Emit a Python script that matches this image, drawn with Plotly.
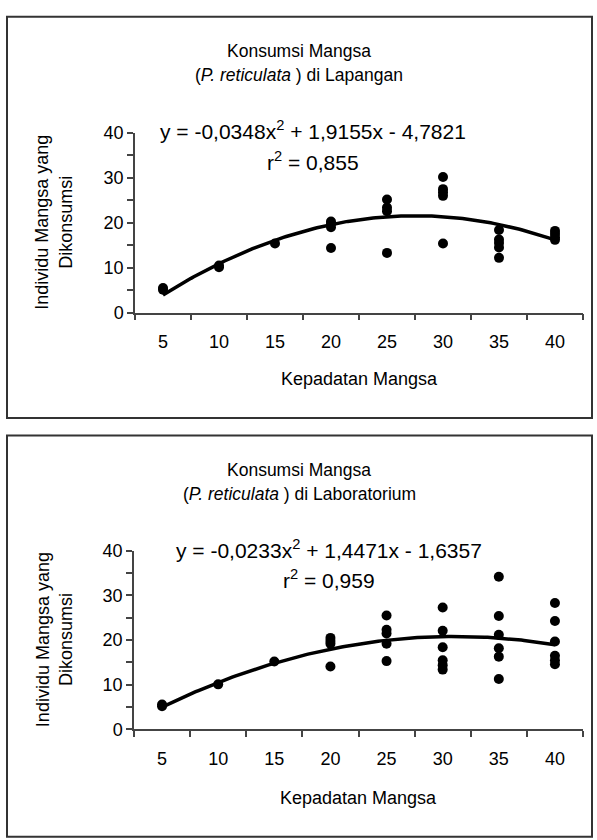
import numpy as np
import plotly.graph_objects as go

# ---------------- data ----------------
density_labels = ["5", "10", "15", "20", "25", "30", "35", "40"]
density_values = [5, 10, 15, 20, 25, 30, 35, 40]

# Field (Lapangan) observations
field_x = [5, 5, 10, 10, 15,
           20, 20, 20, 20,
           25, 25, 25, 25,
           30, 30, 30, 30, 30,
           35, 35, 35, 35, 35,
           40, 40, 40, 40]
field_y = [5.5, 5.1, 10.5, 10.1, 15.4,
           20.3, 19.8, 19.0, 14.4,
           25.2, 23.4, 22.6, 13.3,
           30.2, 27.5, 26.8, 26.0, 15.4,
           18.4, 16.3, 15.5, 14.5, 12.2,
           18.2, 17.5, 16.8, 16.2]

# Laboratory (Laboratorium) observations
lab_x = [5, 5, 10, 15,
         20, 20, 20, 20,
         25, 25, 25, 25, 25,
         30, 30, 30, 30, 30, 30,
         35, 35, 35, 35, 35, 35,
         40, 40, 40, 40, 40, 40]
lab_y = [5.6, 5.2, 10.1, 15.2,
         20.5, 19.8, 19.2, 14.1,
         25.5, 22.3, 21.5, 19.2, 15.3,
         27.3, 22.1, 18.4, 15.5, 14.4, 13.4,
         34.2, 25.4, 21.2, 18.2, 16.3, 11.3,
         28.3, 24.3, 19.7, 16.5, 15.5, 14.6]

# printed trendline coefficients (a x^2 + b x + c)
field_coef = [-0.0348, 1.9155, -4.7821]
lab_coef = [-0.0233, 1.4471, -1.6357]

field_eq = "y = -0,0348x<sup>2</sup> + 1,9155x - 4,7821"
field_r2 = "r<sup>2</sup> = 0,855"
lab_eq = "y = -0,0233x<sup>2</sup> + 1,4471x - 1,6357"
lab_r2 = "r<sup>2</sup> = 0,959"

title_line1 = "Konsumsi Mangsa"
field_title2 = "(<i>P. reticulata</i> ) di Lapangan"
lab_title2 = "(<i>P. reticulata</i> ) di Laboratorium"
x_title = "Kepadatan Mangsa"
y_title = "Individu Mangsa yang<br>Dikonsumsi"

# ---------------- layout helpers ----------------
W, H = 597, 840
FONT = "Liberation Sans, Arial, sans-serif"
FS = 18
TITLE_FS = 17.5
EQ_FS = 21
AX = "#444"


def px_x(p):
    return p / W


def px_y(p):
    return 1 - p / H


fig = go.Figure()

xt = np.linspace(5, 40, 141)
panels = [
    dict(x=field_x, y=field_y, coef=field_coef, xa="x", ya="y",
         xdom=[px_x(135), px_x(583)], ydom=[px_y(310), px_y(126)],
         top=7, eq=field_eq, r2=field_r2, eqx=313, eqy=123, r2y=155,
         title2=field_title2),
    dict(x=lab_x, y=lab_y, coef=lab_coef, xa="x2", ya="y2",
         xdom=[px_x(134), px_x(583)], ydom=[px_y(737), px_y(554)],
         top=436, eq=lab_eq, r2=lab_r2, eqx=329, eqy=552, r2y=583,
         title2=lab_title2),
]

annotations = []
shapes = []
for i, p in enumerate(panels):
    fig.add_trace(go.Scatter(
        x=p["x"], y=p["y"], mode="markers", xaxis=p["xa"], yaxis=p["ya"],
        marker=dict(color="black", size=10, symbol="circle"),
        showlegend=False, cliponaxis=False))
    fig.add_trace(go.Scatter(
        x=xt, y=np.polyval(p["coef"], xt), mode="lines",
        xaxis=p["xa"], yaxis=p["ya"],
        line=dict(color="black", width=3.5), showlegend=False))

    suffix = "" if i == 0 else "2"
    fig.layout["xaxis" + suffix] = dict(
        domain=p["xdom"], anchor=p["ya"], range=[2.5, 42.5],
        tickmode="array", tickvals=density_values, ticktext=density_labels,
        ticks="", showline=True, linecolor=AX, linewidth=1.5,
        showgrid=False, zeroline=False, ticklabelstandoff=12,
        tickfont=dict(family=FONT, size=FS, color="black"),
        minor=dict(tick0=2.5, dtick=5, ticks="outside", ticklen=6,
                   tickcolor=AX, tickwidth=1.5, showgrid=False))
    fig.layout["yaxis" + suffix] = dict(
        domain=p["ydom"], anchor=p["xa"], range=[0, 40],
        tickmode="linear", tick0=0, dtick=10,
        ticks="outside", ticklen=6, tickcolor=AX, tickwidth=1.5,
        showline=True, linecolor=AX, linewidth=1.5,
        showgrid=False, zeroline=False,
        tickfont=dict(family=FONT, size=FS, color="black"),
        minor=dict(dtick=5, ticks="outside", ticklen=6, tickcolor=AX,
                   tickwidth=1.5, showgrid=False))

    top = p["top"]
    shapes.append(dict(type="rect", xref="paper", yref="paper",
                       x0=px_x(7), x1=px_x(592),
                       y0=px_y(top + 411), y1=px_y(top),
                       line=dict(color="#333", width=2), layer="below"))
    annotations += [
        dict(text=title_line1, x=px_x(299), y=px_y(top + 35),
             xref="paper", yref="paper", showarrow=False,
             xanchor="center", yanchor="middle",
             font=dict(family=FONT, size=TITLE_FS, color="black")),
        dict(text=p["title2"], x=px_x(299), y=px_y(top + 60),
             xref="paper", yref="paper", showarrow=False,
             xanchor="center", yanchor="middle",
             font=dict(family=FONT, size=TITLE_FS, color="black")),
        dict(text=p["eq"], x=px_x(p["eqx"]), y=px_y(p["eqy"]),
             xref="paper", yref="paper", showarrow=False,
             xanchor="center", yanchor="middle",
             font=dict(family=FONT, size=EQ_FS, color="black")),
        dict(text=p["r2"], x=px_x(p["eqx"]), y=px_y(p["r2y"]),
             xref="paper", yref="paper", showarrow=False,
             xanchor="center", yanchor="middle",
             font=dict(family=FONT, size=EQ_FS, color="black")),
        dict(text=x_title, x=(p["xdom"][0] + p["xdom"][1]) / 2,
             y=px_y(top + 371), xref="paper", yref="paper",
             showarrow=False, xanchor="center", yanchor="middle",
             font=dict(family=FONT, size=FS, color="black")),
        dict(text=y_title, x=px_x(54),
             y=(p["ydom"][0] + p["ydom"][1]) / 2, textangle=-90,
             xref="paper", yref="paper", showarrow=False,
             xanchor="center", yanchor="middle", align="center",
             font=dict(family=FONT, size=FS, color="black")),
    ]

fig.update_layout(
    width=W, height=H, margin=dict(l=0, r=0, t=0, b=0),
    paper_bgcolor="white", plot_bgcolor="white",
    shapes=shapes, annotations=annotations,
    font=dict(family=FONT, size=FS, color="black"),
)

fig.write_html(
    "out.html",
    config={"displayModeBar": False},
    post_script="document.body.style.margin='0px';"
                "document.body.style.overflow='hidden';",
)
